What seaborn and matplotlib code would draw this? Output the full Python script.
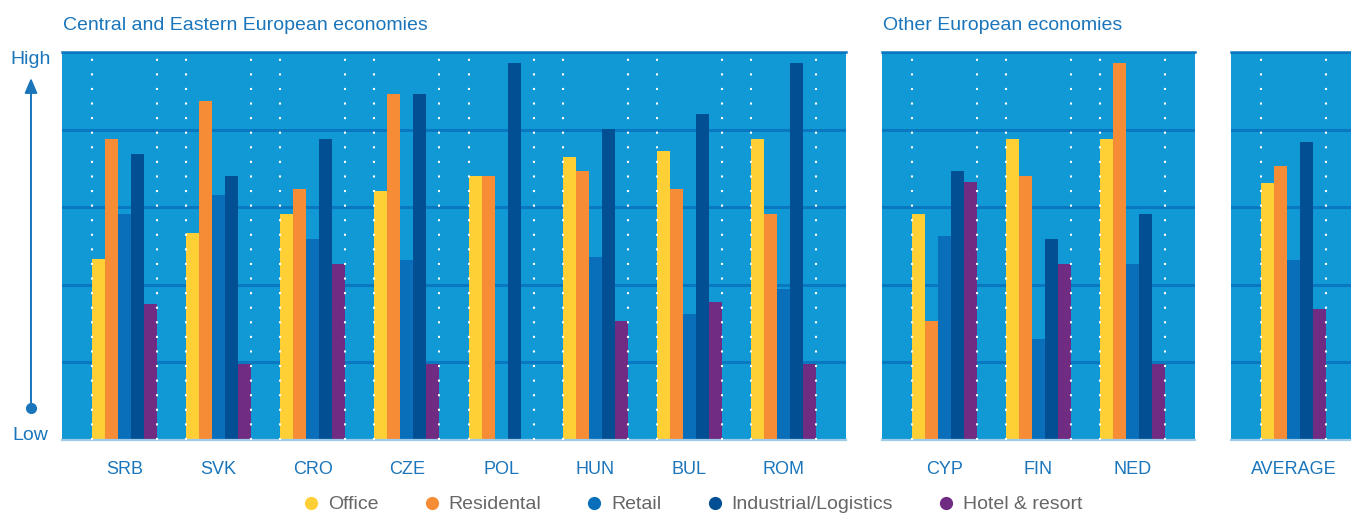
import numpy as np
import pandas as pd
import matplotlib
matplotlib.use("Agg")
import matplotlib.pyplot as plt
from matplotlib.lines import Line2D
import seaborn as sns

# ---------------- data ----------------
sectors = ["Office", "Residental", "Retail", "Industrial/Logistics", "Hotel & resort"]
sector_colors = ["#FFD035", "#F68D36", "#0A6FBA", "#034F93", "#702B82"]

countries_cee = ["SRB", "SVK", "CRO", "CZE", "POL", "HUN", "BUL", "ROM"]
office_cee = [2.33, 2.67, 2.91, 3.21, 3.40, 3.65, 3.72, 3.88]
resid_cee = [3.88, 4.37, 3.23, 4.46, 3.40, 3.47, 3.23, 2.91]
retail_cee = [2.91, 3.16, 2.59, 2.32, 0.0, 2.36, 1.62, 1.95]
indus_cee = [3.69, 3.40, 3.88, 4.46, 4.86, 4.01, 4.20, 4.86]
hotel_cee = [1.75, 0.98, 2.27, 0.98, 0.0, 1.53, 1.78, 0.98]

countries_oth = ["CYP", "FIN", "NED"]
office_oth = [2.91, 3.88, 3.88]
resid_oth = [1.53, 3.40, 4.86]
retail_oth = [2.63, 1.30, 2.27]
indus_oth = [3.47, 2.59, 2.91]
hotel_oth = [3.32, 2.27, 0.98]

countries_avg = ["AVERAGE"]
office_avg = [3.31]
resid_avg = [3.53]
retail_avg = [2.32]
indus_avg = [3.84]
hotel_avg = [1.69]

panel_titles = ["Central and Eastern European economies", "Other European economies", None]
axis_labels = ["High", "Low"]


def make_df(countries, *series):
    rows = []
    for s, vals in zip(sectors, series):
        for c, v in zip(countries, vals):
            rows.append({"country": c, "sector": s, "value": v})
    return pd.DataFrame(rows)


panels = [
    make_df(countries_cee, office_cee, resid_cee, retail_cee, indus_cee, hotel_cee),
    make_df(countries_oth, office_oth, resid_oth, retail_oth, indus_oth, hotel_oth),
    make_df(countries_avg, office_avg, resid_avg, retail_avg, indus_avg, hotel_avg),
]

# ---------------- style ----------------
sns.set_theme(style="white")
plt.rcParams["font.family"] = ["Liberation Sans", "DejaVu Sans"]

BG = "#1199D6"
GRID = "#0A78C1"
TXT = "#1A75BB"
LEG = "#666666"

W, H = 1351, 513
fig = plt.figure(figsize=(W / 100, H / 100), dpi=100)

# panel extents in pixels (left, right); top 52, bottom 440
extents = [(62, 846), (882, 1195), (1231, 1351)]
top_px, bot_px = 52, 440
group_w = 0.69
margin = 0.663

palette = dict(zip(sectors, sector_colors))

for (l, r), df, title in zip(extents, panels, panel_titles):
    ax = fig.add_axes([l / W, 1 - bot_px / H, (r - l) / W, (bot_px - top_px) / H])
    ax.set_facecolor(BG)
    sns.barplot(data=df, x="country", y="value", hue="sector", hue_order=sectors,
                palette=palette, width=group_w, gap=0, saturation=1,
                linewidth=0, edgecolor="none", legend=False, ax=ax, zorder=2)
    n = df["country"].nunique()
    if n == 1:
        ax.set_xlim(-margin, 0.61)
    else:
        ax.set_xlim(-margin, n - 1 + margin)
    ax.set_ylim(0, 5)
    ax.set_yticks(range(6))
    ax.set_yticklabels([])
    ax.yaxis.grid(True, color=GRID, linewidth=2.2, zorder=1)
    ax.set_axisbelow(True)
    ax.set_xlabel("")
    ax.set_ylabel("")
    ax.tick_params(axis="x", length=0, pad=15, labelsize=13, labelcolor=TXT)
    ax.tick_params(axis="y", length=0)
    for s in ["left", "right"]:
        ax.spines[s].set_visible(False)
    ax.spines["top"].set_color(GRID)
    ax.spines["top"].set_linewidth(1.8)
    ax.spines["bottom"].set_color("#9FCBEB")
    ax.spines["bottom"].set_linewidth(1.6)
    # dotted white separators at group edges
    edges = []
    for i in range(n):
        edges += [i - group_w / 2, i + group_w / 2]
    ax.vlines(edges, 0, 4.93, colors="white", linewidth=1.5,
              linestyles=[(0, (1, 6))], zorder=5)
    if title:
        fig.text((l + 1) / W, 1 - 25.5 / H, title, color=TXT, fontsize=14,
                 ha="left", va="center")

# overlay axes in pixel coordinates for the High/Low arrow
oax = fig.add_axes([0, 0, 1, 1], zorder=-1)
oax.set_xlim(0, W)
oax.set_ylim(H, 0)
oax.axis("off")
oax.text(30.5, 60, axis_labels[0], color=TXT, fontsize=14, ha="center", va="center")
oax.text(30.5, 435, axis_labels[1], color=TXT, fontsize=14, ha="center", va="center")
oax.annotate("", xy=(31, 78), xytext=(31, 408),
             arrowprops=dict(arrowstyle="-|>,head_length=0.75,head_width=0.32",
                             color=TXT, lw=1.4, shrinkA=0, shrinkB=0))
oax.plot([31], [408], "o", color=TXT, markersize=7)

handles = [Line2D([0], [0], marker="o", linestyle="none", markersize=9.5,
                  markerfacecolor=c, markeredgecolor="none") for c in sector_colors]
fig.legend(handles, sectors, loc="center", bbox_to_anchor=(693 / W, 1 - 504.5 / H),
           ncol=5, frameon=False, fontsize=14, labelcolor=LEG,
           handlelength=0.8, handletextpad=0.47, columnspacing=2.33,
           borderaxespad=0, borderpad=0)

fig.savefig("out.png", dpi=100, facecolor="white")
